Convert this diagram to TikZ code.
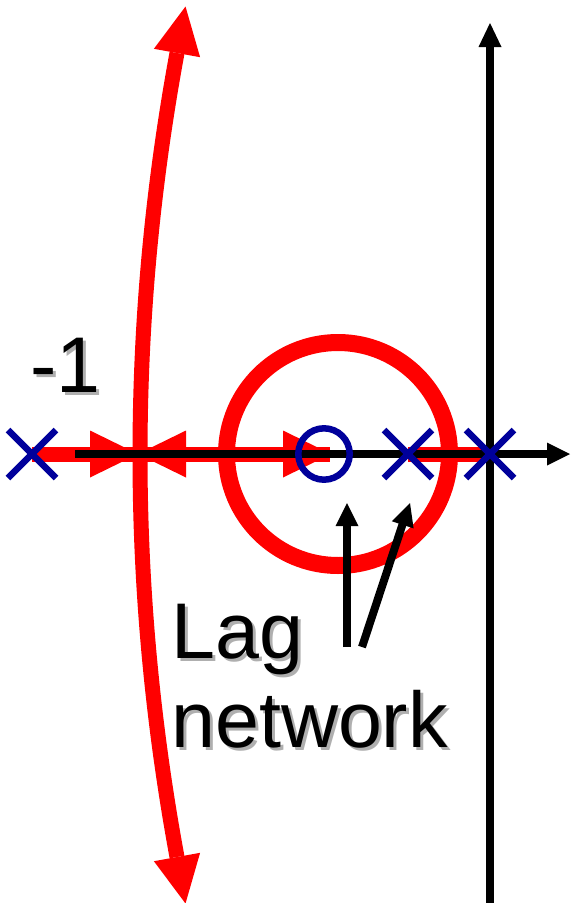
\documentclass[tikz,border=0pt]{standalone}
\usepackage{fontspec}
\setmainfont{Liberation Sans}
\definecolor{locred}{RGB}{255,0,0}
\definecolor{pzblue}{RGB}{0,0,155}
\definecolor{shadowgray}{RGB}{175,175,175}
\newcommand{\shadowed}[1]{\rlap{\hspace{3pt}\raisebox{-3pt}{\textcolor{shadowgray}{#1}}}#1}
\begin{document}
\begin{tikzpicture}[x=1pt,y=-1pt,
  locus/.style={draw=locred,line width=15pt},
  lochead/.style={fill=locred},
  axisline/.style={draw=black,line width=8pt},
  axishead/.style={fill=black},
  polemark/.style={draw=pzblue,line width=6.5pt},
  lbl/.style={inner sep=0pt,anchor=base west,font=\fontsize{79}{89}\selectfont,text=black}]
\useasboundingbox (0,0) rectangle (571,903);
% red root locus: parabola-like branch
\draw[locus] plot[domain=53:857,samples=90,variable=\t] ({140+2.29*((\t-455)/100)^2},{\t});
\fill[lochead] (185.5,6.5) -- (153.9,48.8) -- (200.1,57.2) -- cycle;
\fill[lochead] (185.5,903.5) -- (153.9,861.2) -- (200.1,852.8) -- cycle;
% red circle
\draw[locus,line width=17pt] (338,454) circle[radius=111.5];
% red segments on the real axis
\draw[locus] (32,454) -- (330,454);
\draw[locus] (408,454) -- (488,454);
\fill[lochead] (90,430.5) -- (138,454) -- (90,477.5) -- cycle;
\fill[lochead] (186,430.5) -- (138,454) -- (186,477.5) -- cycle;
\fill[lochead] (283,430.5) -- (331,454) -- (283,477.5) -- cycle;
% axes
\draw[axisline] (75,454) -- (548,454);
\fill[axishead] (547,442.5) -- (570,454) -- (547,465.5) -- cycle;
\draw[axisline] (490,903) -- (490,46);
\fill[axishead] (478.5,47) -- (490,23) -- (501.5,47) -- cycle;
% pointer arrows
\draw[axisline] (347,647) -- (347,525);
\fill[axishead] (335.5,526) -- (347,503) -- (358.5,526) -- cycle;
\draw[axisline] (362,647) -- (403,523);
\fill[axishead] (391.8,521.2) -- (410,503) -- (413.6,528.4) -- cycle;
% poles and zero
\draw[polemark] (8,430) -- (56,478) (8,478) -- (56,430);
\draw[polemark] (384,430) -- (432,478) (384,478) -- (432,430);
\draw[polemark] (466,430) -- (514,478) (466,478) -- (514,430);
\draw[polemark] (324,454) circle[radius=25.7];
% labels
\node[lbl] (m1) at (30,392) {\shadowed{-1}};
\node[lbl] (lag1) at (171,658) {\shadowed{Lag}};
\node[lbl] (lag2) at (171,747) {\shadowed{network}};
\end{tikzpicture}
\end{document}
